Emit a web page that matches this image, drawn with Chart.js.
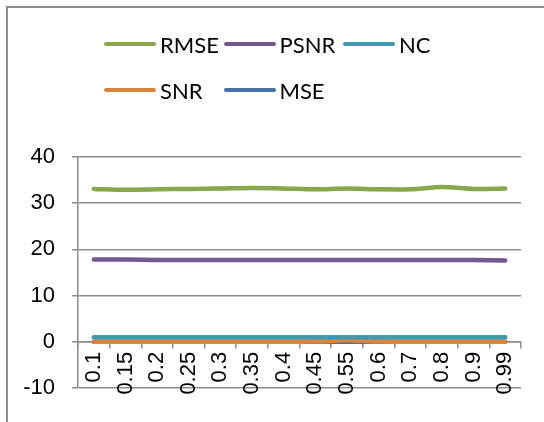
<!DOCTYPE html>
<html>
<head>
<meta charset="utf-8">
<script src="https://cdn.jsdelivr.net/npm/chart.js@4.4.1/dist/chart.umd.min.js"></script>
<style>
    html, body { margin: 0; padding: 0; background: #ffffff; }
    #wrap { position: relative; width: 544px; height: 422px; overflow: hidden; }
    #frame {
        position: absolute; left: 6px; top: 6px; width: 600px; height: 500px;
        border-left: 2px solid #8c8c8c; border-top: 2px solid #8c8c8c;
    }
    #chart { position: absolute; left: 0; top: 0; }
    .legend-item { position: absolute; height: 24px; display: flex; align-items: center; }
    .legend-line { width: 52px; height: 4.5px; border-radius: 3px; margin-right: 4px; }
    .legend-text { font-family: Lato, 'Liberation Sans', sans-serif; font-size: 22px; color: #000; }
</style>
</head>
<body>
<div id="wrap">
    <div id="frame"></div>
    <canvas id="chart" width="544" height="422"></canvas>
    <div id="legend"></div>
</div>
<script>
// categories on the x axis
const categories = ['0.1', '0.15', '0.2', '0.25', '0.3', '0.35', '0.4', '0.45', '0.55', '0.6', '0.7', '0.8', '0.9', '0.99'];

// series values
const rmse = [33.1, 32.9, 33.0, 33.1, 33.2, 33.3, 33.2, 33.0, 33.2, 33.0, 33.0, 33.5, 33.1, 33.2];
const psnr = [17.8, 17.8, 17.7, 17.7, 17.7, 17.7, 17.7, 17.7, 17.7, 17.7, 17.7, 17.7, 17.7, 17.6];
const nc   = [0.99, 0.99, 0.99, 0.99, 0.99, 0.99, 0.99, 0.99, 0.99, 0.99, 0.99, 0.99, 0.99, 0.99];
const snr  = [0.02, 0.02, 0.02, 0.02, 0.02, 0.02, 0.02, 0.05, 0.35, 0.05, 0.02, 0.02, 0.02, 0.02];
const mse  = [0.001, 0.001, 0.001, 0.001, 0.001, 0.001, 0.001, 0.001, 0.001, 0.001, 0.001, 0.001, 0.001, 0.001];

// y axis ticks
const yTicks = [-10, 0, 10, 20, 30, 40];

const seriesNames = ['RMSE', 'PSNR', 'NC', 'SNR', 'MSE'];
const seriesData = [rmse, psnr, nc, snr, mse];
const seriesColors = ['#89A54E', '#71588F', '#4198AF', '#DB843D', '#4572A7'];
const seriesOrder = [0, 0, 0, 0, 1];

const gridColor = '#8c8c8c';
const tickFont = { family: "'Liberation Sans', Arial, sans-serif", size: 22 };

const datasets = seriesNames.map((name, i) => ({
    label: name,
    data: seriesData[i],
    borderColor: seriesColors[i],
    backgroundColor: seriesColors[i],
    borderWidth: 4.5,
    borderCapStyle: 'round',
    borderJoinStyle: 'round',
    pointRadius: 0,
    tension: 0.3,
    order: seriesOrder[i]
}));

new Chart(document.getElementById('chart'), {
    type: 'line',
    data: { labels: categories, datasets: datasets },
    options: {
        responsive: false,
        animation: false,
        events: [],
        layout: { padding: { top: 157, right: 23, bottom: 34, left: 0 } },
        plugins: { legend: { display: false }, tooltip: { enabled: false } },
        scales: {
            x: {
                position: { y: 0 },
                offset: true,
                grid: {
                    offset: true,
                    drawOnChartArea: false,
                    drawTicks: true,
                    tickLength: 6,
                    color: gridColor,
                    lineWidth: 1.5
                },
                border: { color: gridColor, width: 1.5 },
                ticks: {
                    minRotation: 90,
                    maxRotation: 90,
                    autoSkip: false,
                    padding: 4,
                    color: '#000',
                    font: tickFont
                }
            },
            y: {
                min: yTicks[0],
                max: yTicks[yTicks.length - 1],
                afterBuildTicks: scale => {
                    scale.ticks = yTicks.map(v => ({ value: v }));
                },
                afterFit: scale => { scale.width = 78; },
                grid: { color: gridColor, lineWidth: 1.5, tickLength: 6 },
                border: { color: gridColor, width: 1.5 },
                ticks: { padding: 17, color: '#000', font: tickFont }
            }
        }
    }
});

// legend laid out in columns like the original
const legend = document.getElementById('legend');
seriesNames.forEach((name, i) => {
    const item = document.createElement('div');
    item.className = 'legend-item';
    item.style.left = (104 + (i % 3) * 119.5) + 'px';
    item.style.top = (32 + Math.floor(i / 3) * 46) + 'px';
    const line = document.createElement('div');
    line.className = 'legend-line';
    line.style.background = seriesColors[i];
    const text = document.createElement('span');
    text.className = 'legend-text';
    text.textContent = name;
    item.appendChild(line);
    item.appendChild(text);
    legend.appendChild(item);
});
</script>
</body>
</html>
